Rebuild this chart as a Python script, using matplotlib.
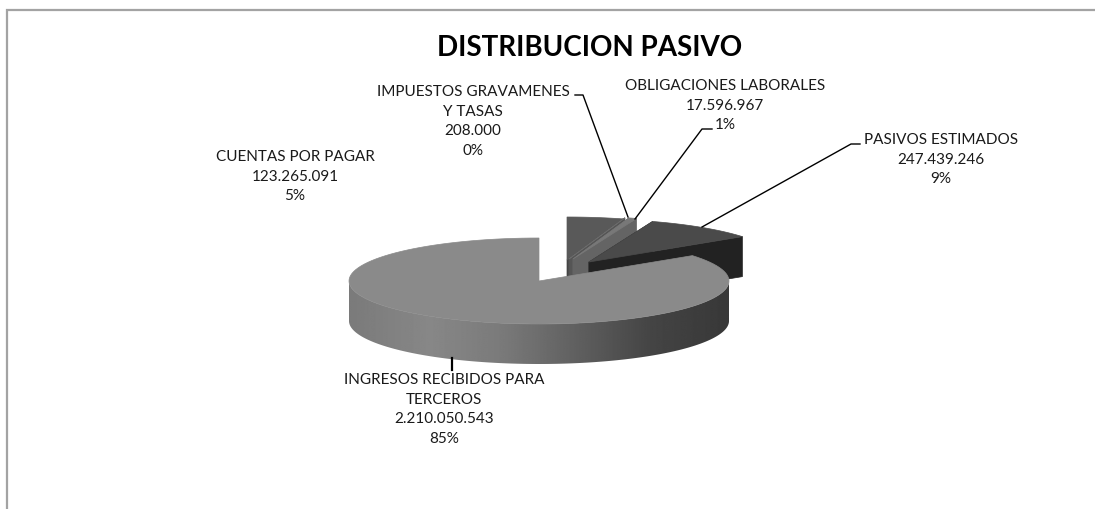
import numpy as np
import matplotlib
matplotlib.use('Agg')
import matplotlib.pyplot as plt
from matplotlib.patches import Polygon

plt.rcParams['font.family'] = ['Lato', 'DejaVu Sans']

W, H = 1095, 510

# Data (clockwise from 12 o'clock)
names = ['CUENTAS POR PAGAR', 'IMPUESTOS GRAVAMENES', 'OBLIGACIONES LABORALES',
         'PASIVOS ESTIMADOS', 'INGRESOS RECIBIDOS PARA']
names2 = ['', 'Y TASAS', '', '', 'TERCEROS']
values = np.array([123265091, 208000, 17596967, 247439246, 2210050543])
pct_labels = ['5%', '0%', '1%', '9%', '85%']

top_colors = ['#595959', '#6a6a6a', '#787878', '#4a4a4a', '#8a8a8a']
side_colors = ['#444444', '#555555', '#646464', '#222222', '#777777']

# Slice offsets from the pie centre, in pixels (right, up)
offsets = [(28, 21), (30, 22), (34, 22), (50, 19), (0, 0)]

# Label placement: centre x, y of first line
label_pos = [(295, 157), (473, 92), (725, 86), (941, 140), (444, 380)]
line_step = 19.7

leaders = [None,
           [(575, 96), (583, 96), (628, 218)],
           [(712, 130), (702, 130), (635, 220)],
           [(860, 145), (851, 145), (702, 228)],
           [(452, 359), (452, 371)]]

# Pie geometry in pixels
cx, cy = 539, 282
a, b = 190, 43
depth = 40

# Gradient of the front wall, by x position
grad_x = [349, 430, 500, 560, 650, 728]
grad_v = [0.48, 0.53, 0.48, 0.40, 0.27, 0.22]

fig = plt.figure(figsize=(W / 100, H / 100), dpi=100)

# pie axes: one unit is one radius in each direction
ax = fig.add_axes([0, 0, 1, 1])
xlim = (-cx / a, (W - cx) / a)
ylim = (-(H - cy) / b, cy / b)
ax.axis('off')

d = depth / b
frac = values / values.sum()
ends = np.cumsum(frac) * 2 * np.pi
starts = ends - frac * 2 * np.pi


def arc(t0, t1, n=120):
    t = np.linspace(t0, t1, n)
    return np.sin(t), np.cos(t)


for i in range(len(values)):
    ox, oy = offsets[i][0] / a, offsets[i][1] / b
    t0, t1 = starts[i], ends[i]
    xs, ys = arc(t0, t1)
    xs, ys = xs + ox, ys + oy

    if i < len(values) - 1:
        # cut faces of the small exploded slices
        ax.fill([ox, xs[-1], xs[-1], ox], [oy, ys[-1], ys[-1] - d, oy - d],
                color=side_colors[i], lw=0.5)
        ax.fill([ox, xs[0], xs[0], ox], [oy, ys[0], ys[0] - d, oy - d],
                color=side_colors[i], lw=0.5)
    else:
        # curved front wall with a horizontal gradient
        qx, qy = arc(np.pi / 2, 3 * np.pi / 2, 200)
        wall = Polygon(np.c_[np.r_[qx, qx[::-1]], np.r_[qy, qy[::-1] - d]],
                       transform=ax.transData, fc='none', ec='none')
        ax.add_patch(wall)
        gx = np.linspace(-1, 1, 400)
        g = np.interp(cx + a * gx, grad_x, grad_v)
        im = ax.imshow(g[np.newaxis, :], extent=(-1, 1, -1 - d, 1), aspect='auto',
                       cmap='gray', vmin=0, vmax=1, interpolation='bilinear')
        im.set_clip_path(wall)

    ax.fill(np.r_[ox, xs], np.r_[oy, ys], color=top_colors[i], lw=0.5)

ax.set_xlim(xlim)
ax.set_ylim(ylim)

# overlay in pixel coordinates for frame and texts
ov = fig.add_axes([0, 0, 1, 1])
ov.set_xlim(0, W)
ov.set_ylim(H, 0)
ov.axis('off')
ov.patch.set_alpha(0)

ov.plot([6.5, 6.5, W], [H, 11, 11], color='#a3a3a3', lw=1.6, solid_joinstyle='miter')

ov.text(590, 48, 'DISTRIBUCION PASIVO', ha='center', va='center', fontsize=20,
        fontweight='bold', color='black')

for i in range(len(values)):
    lines = [names[i]]
    if names2[i]:
        lines.append(names2[i])
    lines.append(f'{values[i]:,}'.replace(',', '.'))
    lines.append(pct_labels[i])
    x, y = label_pos[i]
    for j, s in enumerate(lines):
        ov.text(x, y + j * line_step, s, ha='center', va='center', fontsize=11, color='#1a1a1a')
    if leaders[i]:
        px, py = zip(*leaders[i])
        ov.plot(px, py, color='black', lw=1.0 if i < 4 else 1.6)

fig.savefig('out.png', dpi=100, facecolor='white')
